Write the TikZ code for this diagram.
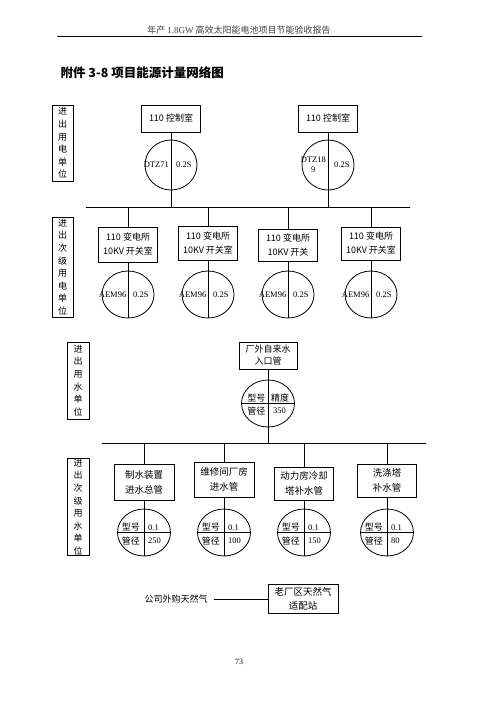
\documentclass[tikz,border=0pt]{standalone}
\usepackage{fontspec}
\setmainfont{Noto Sans CJK SC}
\newfontfamily\latinfont{Liberation Serif}
\usetikzlibrary{shapes.geometric,positioning}

\newcommand{\fsz}[2]{\fontsize{#1}{#2}\selectfont}

\begin{document}
\begin{tikzpicture}[x=1pt,y=-1pt,
  unitbox/.style={draw,line width=.8pt,minimum width=21pt,inner sep=0pt,align=center,font=\fsz{9}{12.6}},
  roombox/.style={draw,line width=.8pt,minimum width=59pt,inner sep=0pt,align=center,font=\fsz{9}{14}},
  meter/.style={draw,ellipse,line width=.8pt,minimum width=52pt,minimum height=48pt,inner sep=0pt},
  mtext/.style={inner sep=0pt,font=\fsz{8.5}{10}\latinfont},
  qtext/.style={inner sep=0pt,font=\fsz{9}{10}},
  wire/.style={line width=.8pt}
]
  \useasboundingbox[fill=white] (0,0) rectangle (496,702);

  % page header and title
  \node[font=\fsz{9}{11},text=black!75] (head) at (239,30) {年产 {\latinfont 1.8GW} 高效太阳能电池项目节能验收报告};
  \draw[line width=.6pt] (57,36) -- (422,36);
  \node[anchor=west,font=\fsz{12.5}{14}\bfseries] (title) at (57,73) {附件 3-8 项目能源计量网络图};

  % electricity, first level
  \node[unitbox,minimum height=76pt] (unitA) at (62.5,143) {进\\出\\用\\电\\单\\位};
  \node[roombox,minimum height=27pt] (ctrlA) at (171,118.5) {110 控制室};
  \node[roombox,minimum height=27pt] (ctrlB) at (328,118.5) {110 控制室};
  \node[meter,minimum height=50pt] (mA) at (171,165) {};
  \node[meter,minimum height=50pt] (mB) at (328,165) {};
  \node[mtext,left=2pt of mA.center] (mAl) {DTZ71};
  \node[mtext,right=5pt of mA.center] (mAr) {0.2S};
  \node[mtext,left=2pt of mB.center,align=center] (mBl) {DTZ18\\9};
  \node[mtext,right=6pt of mB.center] (mBr) {0.2S};
  \coordinate (busAl) at (86,207);
  \coordinate (busAr) at (410,207);
  \draw[wire] (busAl) -- (busAr);
  \draw[wire] (ctrlA.south) -- (ctrlA.south |- busAl);
  \draw[wire] (ctrlB.south) -- (ctrlB.south |- busAl);

  % electricity, second level
  \node[unitbox,minimum height=100pt] (unitB) at (62.5,267) {进\\出\\次\\级\\用\\电\\单\\位};
  \node[roombox,minimum height=35pt] (subA) at (128,244.5) {110 变电所\\10KV 开关室};
  \node[roombox,minimum height=34pt] (subB) at (208,243) {110 变电所\\10KV 开关室};
  \node[roombox,minimum height=32pt] (subC) at (288,245) {110 变电所\\10KV 开关};
  \node[roombox,minimum height=33pt] (subD) at (371,243.5) {110 变电所\\10KV 开关室};
  \foreach \s in {A,B,C,D}{
    \node[meter,minimum height=47pt] (ms\s) at (sub\s |- 0,294.5) {};
    \node[mtext,left=1.5pt of ms\s.center] (ms\s l) {AEM96};
    \node[mtext,right=5pt of ms\s.center] (ms\s r) {0.2S};
    \draw[wire] (sub\s.north |- busAl) -- (sub\s.north);
    \draw[wire] (sub\s.south) -- (ms\s.south);
  }

  % water, first level
  \node[unitbox,minimum width=22pt,minimum height=77pt] (unitC) at (78,380.5) {进\\出\\用\\水\\单\\位};
  \node[roombox,minimum width=58pt,minimum height=27pt,font=\fsz{9}{12}] (inlet) at (268,355.5) {厂外自来水\\入口管};
  \node[meter,minimum width=53pt,minimum height=47pt] (wm) at (268,403.5) {};
  \draw[wire] (wm.west) -- (wm.east);
  \node[qtext,above left=1pt and 2.5pt of wm.center] (wmA) {型号};
  \node[qtext,above right=1pt and 3pt of wm.center] (wmB) {精度};
  \node[qtext,below left=3.5pt and 2.5pt of wm.center] (wmC) {管径};
  \node[mtext,below right=4pt and 5pt of wm.center] (wmD) {350};
  \coordinate (busBl) at (102,443);
  \coordinate (busBr) at (426,443);
  \draw[wire] (busBl) -- (busBr);
  \draw[wire] (inlet.south) -- (inlet.south |- busBl);

  % water, second level
  \node[unitbox,minimum width=22pt,minimum height=94pt] (unitD) at (78,507) {进\\出\\次\\级\\用\\水\\单\\位};
  \node[roombox,minimum width=60pt,minimum height=36pt,font=\fsz{9.5}{15}] (pipeA) at (144,482) {制水装置\\进水总管};
  \node[roombox,minimum width=60pt,minimum height=35pt,font=\fsz{9.5}{15}] (pipeB) at (224,479.5) {维修间厂房\\进水管};
  \node[roombox,minimum height=33pt,font=\fsz{9.5}{15}] (pipeC) at (304,483.5) {动力房冷却\\塔补水管};
  \node[roombox,minimum height=33pt,font=\fsz{9.5}{15}] (pipeD) at (387,480.5) {洗涤塔\\补水管};
  \foreach \s/\d in {A/250,B/100,C/150,D/80}{
    \node[meter,minimum width=53pt,minimum height=47pt] (wm\s) at (pipe\s |- 0,532.5) {};
    \draw[wire] (pipe\s.north |- busBl) -- (pipe\s.north);
    \draw[wire] (pipe\s.south) -- (wm\s.south);
    \draw[wire] (wm\s.west) -- (wm\s.east);
    \node[qtext,above left=1.5pt and 4pt of wm\s.center] (wm\s a) {型号};
    \node[mtext,above right=2pt and 4pt of wm\s.center] (wm\s b) {0.1};
    \node[qtext,below left=4.5pt and 4pt of wm\s.center] (wm\s c) {管径};
    \node[mtext,below right=5pt and 4pt of wm\s.center] (wm\s d) {\d};
  }

  % natural gas
  \node[font=\fsz{9}{11}] (gasin) at (176,599) {公司外购天然气};
  \node[roombox,minimum width=70pt,minimum height=29pt,font=\fsz{9.5}{14}] (gasst) at (303,598.5) {老厂区天然气\\适配站};
  \draw[wire] (214,599) coordinate (gasw) -- (gasw -| gasst.west);

  % page number
  \node[font=\fsz{8}{10}\latinfont] (pageno) at (239,662) {73};
\end{tikzpicture}
\end{document}
